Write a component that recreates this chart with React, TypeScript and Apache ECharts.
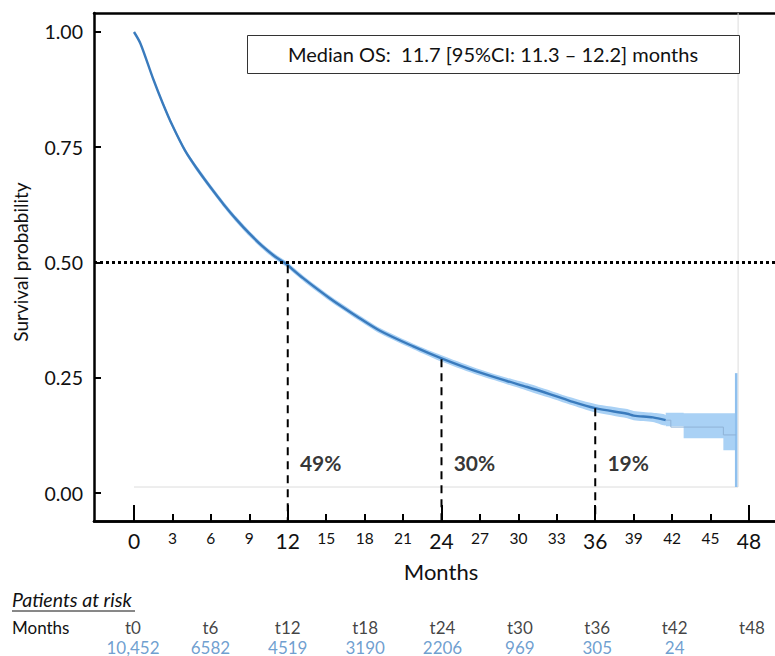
import React, { useEffect, useRef } from "react";
import * as echarts from "echarts";

// Kaplan-Meier curve
const months = [0, 0.5, 1.5, 2.25, 3.0, 4.0, 5.0, 6.0, 7.0, 8.0, 9.0, 10.0, 11.0, 11.7, 12.0, 13.2, 15.3, 17.4, 19.2, 21.8, 24.0, 26.5, 29.1, 30.7, 32.5, 34.0, 36.0, 38.5, 39.0, 40.5, 41.5];
const survival = [1.0, 0.975, 0.898, 0.845, 0.797, 0.742, 0.7, 0.662, 0.626, 0.593, 0.563, 0.536, 0.513, 0.5, 0.494, 0.466, 0.422, 0.383, 0.352, 0.318, 0.292, 0.266, 0.243, 0.23, 0.214, 0.2, 0.184, 0.172, 0.168, 0.164, 0.158];
const ciLow = [1.0, 0.972, 0.894, 0.84, 0.792, 0.737, 0.694, 0.656, 0.62, 0.587, 0.557, 0.53, 0.507, 0.494, 0.488, 0.46, 0.416, 0.377, 0.346, 0.312, 0.285, 0.259, 0.236, 0.222, 0.206, 0.192, 0.175, 0.162, 0.158, 0.154, 0.147];
const ciHigh = [1.0, 0.978, 0.902, 0.85, 0.802, 0.747, 0.706, 0.668, 0.632, 0.599, 0.569, 0.542, 0.519, 0.506, 0.5, 0.472, 0.428, 0.389, 0.358, 0.324, 0.299, 0.273, 0.25, 0.238, 0.222, 0.208, 0.193, 0.182, 0.178, 0.174, 0.169];

// Tail (step) part
const tailMonths = [41.5, 41.9, 46.0, 47.0];
const tailSurv = [0.158, 0.143, 0.126, 0.126];
const tailBandMonths = [41.5, 42.9, 46.0, 47.0];
const tailLow = [0.145, 0.119, 0.093, 0.093];
const tailHigh = [0.174, 0.173, 0.173, 0.173];
const lastCI = { month: 47.0, low: 0.013, high: 0.26 };

// Landmarks
const landmarkMonths = [12, 24, 36];
const landmarkSurv = [0.494, 0.29, 0.184];
const landmarkLabels = ["49%", "30%", "19%"];
const median = 0.5;

// Axis ticks
const minorTicks = [3, 6, 9, 15, 18, 21, 27, 30, 33, 39, 42, 45];
const majorTicks = [0, 12, 24, 36, 48];
const yTicks = [0, 0.25, 0.5, 0.75, 1];

// Risk table
const riskTimes = ["t0", "t6", "t12", "t18", "t24", "t30", "t36", "t42", "t48"];
const riskCounts = ["10,452", "6582", "4519", "3190", "2206", "969", "305", "24"];

const annotation = "Median OS:  11.7 [95%CI: 11.3 \u2013 12.2] months";

const X_MIN = -3.122;
const X_MAX = 50.03;
const Y_MIN = -0.0607;
const Y_MAX = 1.0412;
const FONT = "Lato";

export default function App() {
  const ref = useRef<HTMLDivElement>(null);
  useEffect(() => {
    if (!ref.current) return;
    const chart = echarts.init(ref.current, null, { renderer: "svg" });
    const mainPts = months.map((m, i) => [m, survival[i]]);
    const bandColor = "#a9d1f5";
    const lineColor = "#3a7bbd";

    const series: any[] = [
      // grey panel lines
      {
        type: "line",
        data: [[0, 0.013], [47.15, 0.013], [47.15, Y_MAX]],
        symbol: "none",
        lineStyle: { color: "#dcdcdc", width: 1 },
        silent: true,
        z: 1,
      },
      // smooth CI band
      {
        type: "custom",
        data: [[0, 1]],
        z: 2,
        renderItem: (_p: any, api: any) => {
          const up = months.map((m, i) => api.coord([m, ciHigh[i]]));
          const lo = months.map((m, i) => api.coord([m, ciLow[i]])).reverse();
          return {
            type: "polygon",
            shape: { points: up.concat(lo), smooth: 0.25 },
            style: { fill: bandColor },
          };
        },
      },
      // step CI band for the tail
      {
        type: "custom",
        data: [[41.5, 0.16]],
        z: 2,
        renderItem: (_p: any, api: any) => {
          const up: number[][] = [];
          const lo: number[][] = [];
          for (let i = 0; i < tailBandMonths.length; i++) {
            up.push(api.coord([tailBandMonths[i], tailHigh[i]]));
            lo.push(api.coord([tailBandMonths[i], tailLow[i]]));
            if (i < tailBandMonths.length - 1) {
              up.push(api.coord([tailBandMonths[i + 1], tailHigh[i]]));
              lo.push(api.coord([tailBandMonths[i + 1], tailLow[i]]));
            }
          }
          return {
            type: "polygon",
            shape: { points: up.concat(lo.reverse()) },
            style: { fill: bandColor },
          };
        },
      },
      {
        type: "line",
        data: [[lastCI.month, lastCI.low], [lastCI.month, lastCI.high]],
        symbol: "none",
        lineStyle: { color: "#8fc0ee", width: 2.5 },
        z: 3,
      },
      {
        type: "line",
        data: mainPts,
        symbol: "none",
        smooth: 0.3,
        lineStyle: { color: lineColor, width: 2.4 },
        z: 5,
      },
      {
        type: "line",
        data: tailMonths.map((m, i) => [m, tailSurv[i]]),
        step: "end",
        symbol: "none",
        lineStyle: { color: "#8fb2d6", width: 1 },
        z: 5,
      },
      // median dotted line
      {
        type: "line",
        data: [[X_MIN, median], [X_MAX, median]],
        symbol: "none",
        lineStyle: { color: "#000", width: 3, type: [3, 3] },
        z: 6,
      },
      // landmark labels
      {
        type: "scatter",
        symbolSize: 0,
        data: landmarkMonths.map((m, i) => [m + 0.95, 0.067, landmarkLabels[i]]),
        label: {
          show: true,
          position: "inside",
          align: "left",
          verticalAlign: "middle",
          formatter: (p: any) => p.value[2],
          fontFamily: FONT,
          fontWeight: "bold",
          fontSize: 21,
          color: "#000",
        },
        z: 7,
      },
    ];
    landmarkMonths.forEach((m, i) => {
      series.push({
        type: "line",
        data: [[m, landmarkSurv[i]], [m, Y_MIN]],
        symbol: "none",
        lineStyle: { color: "#000", width: 2, type: [8, 6] },
        z: 6,
      });
    });
    // risk table
    series.push({
      type: "scatter",
      xAxisIndex: 3,
      yAxisIndex: 1,
      symbolSize: 0,
      data: riskTimes.map((t, i) => [i, 1, t]),
      label: {
        show: true,
        position: "inside",
        formatter: (p: any) => p.value[2],
        fontFamily: FONT,
        fontSize: 17,
        color: "#111",
      },
    });
    series.push({
      type: "scatter",
      xAxisIndex: 3,
      yAxisIndex: 1,
      symbolSize: 0,
      data: riskCounts.map((c, i) => [i, 0, c]),
      label: {
        show: true,
        position: "inside",
        formatter: (p: any) => p.value[2],
        fontFamily: FONT,
        fontSize: 17,
        color: "#4a86c4",
      },
    });

    const axisLine = { show: true, onZero: false, lineStyle: { color: "#000", width: 2.5 } };

    chart.setOption({
      animation: false,
      grid: [
        { left: 94, right: 0, top: 13, bottom: 135 },
        { left: 133, right: 23, top: 627, height: 20 },
      ],
      xAxis: [
        {
          type: "value",
          gridIndex: 0,
          position: "bottom",
          min: X_MIN,
          max: X_MAX,
          axisLine,
          axisTick: { show: true, inside: true, length: 7, lineStyle: { color: "#000", width: 2 }, customValues: minorTicks },
          axisLabel: { customValues: minorTicks, fontFamily: FONT, fontSize: 15.5, color: "#111", margin: 9 },
          splitLine: { show: false },
        },
        {
          type: "value",
          gridIndex: 0,
          position: "bottom",
          min: X_MIN,
          max: X_MAX,
          axisLine,
          axisTick: { show: true, inside: true, length: 16, lineStyle: { color: "#000", width: 2 }, customValues: majorTicks },
          axisLabel: { customValues: majorTicks, fontFamily: FONT, fontSize: 21, color: "#111", margin: 9 },
          splitLine: { show: false },
        },
        {
          type: "value",
          gridIndex: 0,
          position: "top",
          min: X_MIN,
          max: X_MAX,
          axisLine,
          axisTick: { show: false },
          axisLabel: { show: false },
          splitLine: { show: false },
        },
        {
          type: "category",
          gridIndex: 1,
          data: riskTimes,
          boundaryGap: false,
          show: false,
        },
      ],
      yAxis: [
        {
          type: "value",
          gridIndex: 0,
          position: "left",
          min: Y_MIN,
          max: Y_MAX,
          axisLine,
          axisTick: { show: true, inside: true, length: 7, lineStyle: { color: "#000", width: 2 }, customValues: yTicks },
          axisLabel: {
            customValues: yTicks,
            formatter: (v: number) => v.toFixed(2),
            fontFamily: FONT,
            fontSize: 19.5,
            color: "#111",
            margin: 11,
          },
          splitLine: { show: false },
        },
        { type: "value", gridIndex: 1, min: 0, max: 1, show: false },
      ],
      graphic: [
        {
          type: "rect",
          shape: { x: 247.5, y: 35.5, width: 492, height: 38 },
          style: { fill: "#fff", stroke: "#333", lineWidth: 1 },
          z: 10,
        },
        {
          type: "text",
          x: 493,
          y: 54,
          style: { text: annotation, fontFamily: FONT, fontSize: 20, fill: "#111", align: "center", verticalAlign: "middle" },
          z: 11,
        },
        {
          type: "text",
          x: 20,
          y: 262,
          rotation: Math.PI / 2,
          style: { text: "Survival probability", fontFamily: FONT, fontSize: 19, fill: "#111", align: "center", verticalAlign: "middle" },
        },
        {
          type: "text",
          x: 441,
          y: 571,
          style: { text: "Months", fontFamily: FONT, fontSize: 22, fill: "#111", align: "center", verticalAlign: "middle" },
        },
        {
          type: "text",
          x: 12,
          y: 599,
          style: { text: "Patients at risk", fontFamily: FONT, fontSize: 19.5, fontStyle: "italic", fill: "#111", align: "left", verticalAlign: "middle" },
        },
        {
          type: "line",
          shape: { x1: 12, y1: 611, x2: 135, y2: 611 },
          style: { stroke: "#111", lineWidth: 1 },
        },
        {
          type: "text",
          x: 12,
          y: 627,
          style: { text: "Months", fontFamily: FONT, fontSize: 17, fill: "#111", align: "left", verticalAlign: "middle" },
        },
      ],
      series,
    });
    return () => chart.dispose();
  }, []);
  return (
    <div
      ref={ref}
      style={{ position: "fixed", left: 0, top: 0, width: 775, height: 656, background: "#fff" }}
    />
  );
}
